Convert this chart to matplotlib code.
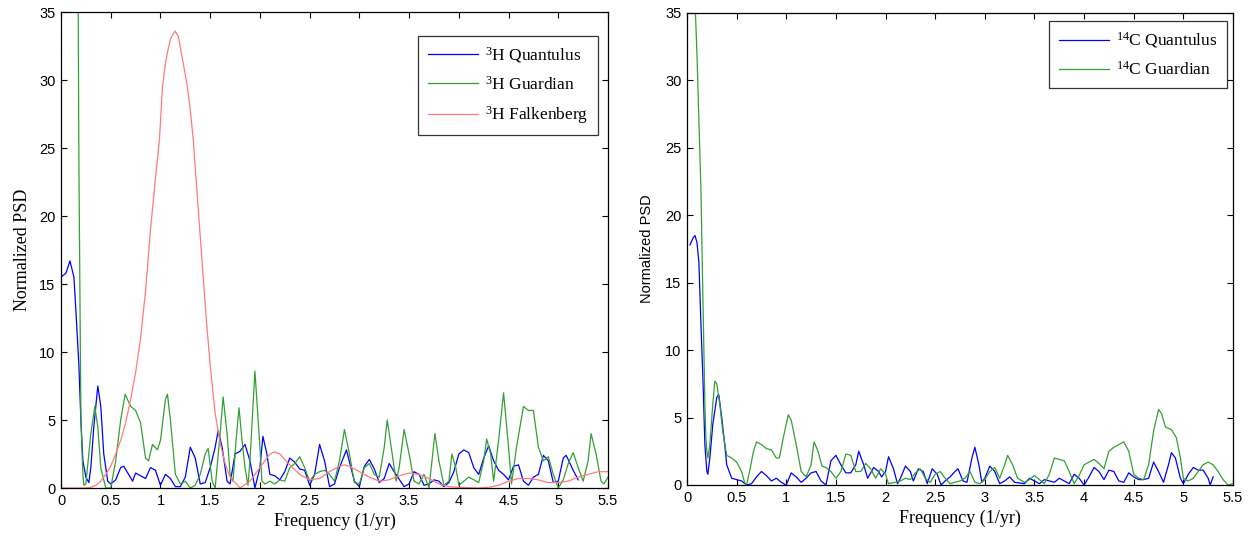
import numpy as np
import matplotlib
matplotlib.use("Agg")
import matplotlib.pyplot as plt

# ============================================================
# DATA
# ============================================================

# --- 3H panel ---
h_quant_f = [0.0, 0.05, 0.09, 0.13, 0.15, 0.18, 0.2, 0.22, 0.25, 0.28, 0.3, 0.33, 0.37, 0.4, 0.43,
             0.47, 0.5, 0.55, 0.6, 0.63, 0.68, 0.72, 0.75, 0.8, 0.85, 0.9, 0.95, 1.0, 1.05, 1.1,
             1.15, 1.2, 1.25, 1.3, 1.35, 1.4, 1.45, 1.5, 1.55, 1.58, 1.62, 1.67, 1.7, 1.75, 1.8,
             1.85, 1.9, 1.95, 2.0, 2.03, 2.07, 2.1, 2.15, 2.2, 2.25, 2.3, 2.35, 2.4, 2.45, 2.5,
             2.55, 2.6, 2.65, 2.7, 2.75, 2.8, 2.87, 2.95, 3.0, 3.05, 3.1, 3.15, 3.2, 3.25, 3.3,
             3.35, 3.45, 3.5, 3.55, 3.6, 3.65, 3.7, 3.75, 3.8, 3.85, 3.9, 3.95, 4.0, 4.05, 4.1,
             4.15, 4.2, 4.25, 4.3, 4.35, 4.4, 4.45, 4.5, 4.55, 4.6, 4.65, 4.7, 4.75, 4.8, 4.85,
             4.9, 4.95, 5.0, 5.05, 5.08, 5.15, 5.2]
h_quant_p = [15.5, 15.8, 16.7, 15.5, 13.0, 9.0, 5.0, 2.0, 0.8, 0.4, 1.5, 4.5, 7.5, 6.0, 2.5,
             0.5, 0.3, 0.6, 1.5, 1.6, 1.0, 0.5, 1.1, 0.9, 0.7, 1.5, 1.3, 0.2, 1.0, 0.7,
             0.1, 0.1, 0.8, 3.0, 2.2, 0.3, 0.4, 1.5, 3.0, 4.2, 3.0, 0.5, 0.3, 2.5, 2.7,
             3.2, 2.0, 0.0, 1.5, 3.8, 2.5, 1.0, 0.9, 0.6, 1.2, 2.2, 1.9, 1.4, 1.3, 0.2,
             1.0, 3.2, 2.0, 0.1, 0.3, 1.5, 2.8, 0.5, 0.1, 1.6, 2.1, 1.4, 0.4, 0.7, 1.8,
             1.2, 0.1, 0.3, 1.2, 1.0, 0.2, 0.3, 0.6, 0.5, 0.1, 0.4, 1.2, 2.5, 2.8, 2.6,
             1.5, 1.0, 2.2, 3.1, 2.0, 1.3, 1.0, 0.6, 1.6, 1.7, 0.5, 0.2, 0.8, 1.0, 2.4,
             2.0, 0.4, 0.5, 2.2, 2.4, 1.3, 0.6]

h_guard_f = [0.16, 0.17, 0.18, 0.19, 0.2, 0.22, 0.23, 0.25, 0.28, 0.3, 0.34, 0.37, 0.4, 0.45, 0.5,
             0.55, 0.6, 0.645, 0.7, 0.75, 0.8, 0.85, 0.88, 0.92, 0.97, 1.0, 1.05, 1.07, 1.1, 1.15,
             1.2, 1.25, 1.3, 1.35, 1.4, 1.45, 1.48, 1.52, 1.55, 1.6, 1.63, 1.67, 1.7, 1.73, 1.76,
             1.79, 1.82, 1.85, 1.88, 1.9, 1.95, 2.0, 2.02, 2.05, 2.1, 2.15, 2.2, 2.25, 2.3, 2.35,
             2.4, 2.45, 2.5, 2.55, 2.6, 2.65, 2.7, 2.75, 2.8, 2.85, 2.9, 2.95, 3.0, 3.05, 3.1,
             3.15, 3.2, 3.25, 3.28, 3.32, 3.37, 3.4, 3.45, 3.5, 3.55, 3.6, 3.65, 3.7, 3.73, 3.76,
             3.8, 3.85, 3.9, 3.93, 3.97, 4.0, 4.05, 4.1, 4.15, 4.2, 4.25, 4.28, 4.32, 4.35, 4.4,
             4.45, 4.5, 4.53, 4.58, 4.65, 4.7, 4.75, 4.8, 4.85, 4.9, 4.95, 5.0, 5.05, 5.1, 5.15,
             5.2, 5.25, 5.3, 5.33, 5.38, 5.43, 5.46, 5.5]
h_guard_p = [60.0, 40.0, 24.0, 14.0, 5.0, 1.0, 0.2, 0.3, 2.5, 4.0, 6.0, 4.5, 1.5, 0.0, 0.0,
             2.0, 5.0, 6.9, 6.0, 5.7, 4.8, 2.2, 2.0, 3.2, 2.8, 3.5, 6.5, 6.9, 5.0, 1.0,
             0.3, 0.5, 0.0, 0.2, 1.0, 2.5, 2.9, 0.5, 0.0, 4.0, 6.7, 4.0, 1.0, 0.5, 3.5,
             5.9, 3.5, 1.5, 0.2, 2.0, 8.6, 3.0, 0.5, 0.3, 0.5, 0.3, 0.6, 0.5, 1.5, 1.8,
             2.3, 1.5, 0.5, 1.0, 1.2, 1.3, 1.0, 0.5, 2.0, 4.3, 2.5, 0.4, 0.3, 1.5, 1.8,
             1.0, 0.8, 3.0, 5.0, 3.0, 0.5, 1.5, 4.3, 2.5, 0.5, 0.3, 1.0, 0.0, 2.0, 4.0,
             2.0, 0.2, 0.5, 2.5, 1.5, 0.2, 0.5, 0.8, 0.6, 0.4, 2.0, 3.6, 2.5, 0.5, 3.5,
             7.0, 3.0, 0.3, 3.0, 6.0, 5.7, 5.7, 3.0, 2.0, 2.3, 1.0, 0.0, 0.6, 1.8, 2.6,
             1.5, 0.5, 2.0, 4.0, 2.5, 0.5, 0.3, 0.8]

h_falk_f = [0.0, 0.25, 0.3, 0.35, 0.4, 0.45, 0.5, 0.55, 0.6, 0.65, 0.7, 0.75, 0.8, 0.85, 0.9,
            0.95, 0.99, 1.02, 1.05, 1.07, 1.1, 1.146, 1.18, 1.21, 1.24, 1.27, 1.3, 1.33, 1.38, 1.42,
            1.46, 1.5, 1.55, 1.6, 1.65, 1.7, 1.8, 1.9, 2.0, 2.1, 2.15, 2.2, 2.3, 2.4, 2.5,
            2.6, 2.7, 2.8, 2.85, 2.9, 3.0, 3.1, 3.2, 3.3, 3.4, 3.5, 3.6, 3.7, 3.8, 3.9,
            4.0, 4.2, 4.3, 4.4, 4.5, 4.6, 4.7, 4.8, 4.9, 5.0, 5.1, 5.2, 5.3, 5.4, 5.5]
h_falk_p = [0.0, 0.0, 0.05, 0.2, 0.5, 1.0, 1.6, 2.5, 3.5, 4.8, 6.5, 8.5, 11.0, 14.5, 19.0,
            22.8, 25.6, 29.5, 31.2, 32.0, 33.0, 33.6, 33.2, 32.0, 30.8, 29.5, 27.8, 25.6, 20.5, 16.5,
            12.5, 9.0, 5.5, 3.3, 1.8, 0.8, 0.0, 0.5, 1.5, 2.5, 2.65, 2.5, 1.7, 1.0, 0.6,
            0.7, 1.2, 1.6, 1.7, 1.6, 1.2, 0.8, 0.5, 0.6, 0.9, 1.1, 1.0, 0.7, 0.3, 0.1,
            0.05, 0.0, 0.05, 0.2, 0.5, 0.7, 0.7, 0.6, 0.4, 0.4, 0.5, 0.8, 1.0, 1.2, 1.2]

# --- 14C panel ---
c_quant_f = [0.03, 0.06, 0.08, 0.1, 0.12, 0.14, 0.16, 0.18, 0.2, 0.21, 0.23, 0.26, 0.3, 0.32, 0.35,
             0.38, 0.4, 0.45, 0.5, 0.55, 0.6, 0.65, 0.7, 0.75, 0.8, 0.85, 0.9, 0.95, 1.0, 1.05,
             1.1, 1.15, 1.2, 1.25, 1.3, 1.35, 1.4, 1.45, 1.5, 1.55, 1.6, 1.65, 1.7, 1.73, 1.78,
             1.82, 1.88, 1.93, 1.96, 2.0, 2.03, 2.08, 2.12, 2.15, 2.2, 2.25, 2.28, 2.33, 2.38, 2.42,
             2.47, 2.52, 2.56, 2.6, 2.65, 2.7, 2.73, 2.78, 2.82, 2.87, 2.9, 2.94, 2.97, 3.0, 3.05,
             3.1, 3.15, 3.2, 3.25, 3.3, 3.4, 3.45, 3.5, 3.55, 3.6, 3.65, 3.7, 3.75, 3.8, 3.85,
             3.9, 3.95, 4.0, 4.05, 4.1, 4.15, 4.2, 4.25, 4.3, 4.35, 4.4, 4.45, 4.5, 4.55, 4.6,
             4.65, 4.7, 4.75, 4.8, 4.85, 4.88, 4.92, 4.97, 5.0, 5.05, 5.1, 5.15, 5.2, 5.25, 5.27,
             5.3]
c_quant_p = [17.8, 18.3, 18.5, 18.0, 16.5, 12.0, 8.0, 3.0, 1.0, 0.8, 2.0, 4.5, 6.5, 6.7, 5.0,
             3.0, 1.5, 0.5, 0.4, 0.3, 0.0, 0.1, 0.6, 1.0, 0.7, 0.3, 0.5, 0.2, 0.0, 0.9,
             0.6, 0.2, 0.5, 0.9, 1.0, 0.3, 0.0, 1.8, 2.2, 1.5, 0.9, 0.9, 1.5, 2.5, 1.5,
             0.5, 1.3, 1.0, 0.6, 1.0, 2.1, 1.2, 0.1, 0.5, 1.4, 1.0, 0.3, 1.2, 1.0, 0.1,
             1.2, 0.8, 0.0, 0.3, 0.6, 1.0, 1.2, 0.3, 0.2, 2.0, 2.8, 1.5, 0.2, 0.5, 1.4,
             1.0, 0.1, 0.3, 0.6, 0.2, 0.1, 0.5, 0.3, 0.1, 0.4, 0.3, 0.2, 0.5, 0.3, 0.1,
             0.8, 0.5, 0.0, 0.6, 1.3, 1.0, 0.4, 1.1, 1.0, 0.3, 0.2, 0.9, 0.6, 0.4, 0.4,
             0.5, 1.7, 1.0, 0.2, 1.5, 2.4, 2.0, 0.5, 0.1, 0.8, 1.3, 1.1, 1.1, 0.5, 0.0,
             0.6]

c_guard_f = [0.07, 0.08, 0.1, 0.12, 0.14, 0.16, 0.18, 0.19, 0.2, 0.21, 0.23, 0.26, 0.28, 0.3, 0.33,
             0.36, 0.4, 0.45, 0.5, 0.55, 0.58, 0.6, 0.63, 0.67, 0.7, 0.75, 0.8, 0.85, 0.9, 0.93,
             0.97, 1.02, 1.05, 1.1, 1.15, 1.2, 1.25, 1.28, 1.32, 1.36, 1.4, 1.45, 1.5, 1.55, 1.6,
             1.65, 1.7, 1.75, 1.8, 1.85, 1.9, 1.95, 2.0, 2.03, 2.1, 2.15, 2.2, 2.25, 2.3, 2.35,
             2.4, 2.45, 2.5, 2.55, 2.6, 2.65, 2.7, 2.75, 2.8, 2.85, 2.9, 2.95, 3.0, 3.05, 3.1,
             3.15, 3.2, 3.23, 3.28, 3.33, 3.4, 3.45, 3.5, 3.55, 3.6, 3.65, 3.7, 3.75, 3.8, 3.85,
             3.9, 3.95, 4.0, 4.05, 4.1, 4.15, 4.2, 4.25, 4.3, 4.35, 4.4, 4.45, 4.5, 4.55, 4.6,
             4.65, 4.7, 4.75, 4.78, 4.82, 4.88, 4.93, 4.97, 5.0, 5.05, 5.1, 5.15, 5.2, 5.25, 5.3,
             5.35, 5.4, 5.45, 5.5]
c_guard_p = [60.0, 36.0, 32.0, 27.0, 22.0, 14.0, 6.0, 3.5, 2.5, 2.0, 3.0, 6.0, 7.7, 7.5, 6.0,
             4.0, 2.2, 2.0, 1.7, 1.0, 0.2, 0.0, 1.0, 2.5, 3.2, 3.0, 2.7, 2.6, 2.0, 2.0,
             3.5, 5.2, 4.8, 3.0, 1.0, 0.6, 1.5, 3.2, 2.5, 1.4, 1.3, 1.0, 0.5, 1.0, 2.3,
             2.2, 1.0, 1.0, 1.6, 1.2, 0.5, 1.2, 0.8, 0.1, 0.2, 0.3, 0.5, 0.4, 0.9, 1.2,
             0.5, 0.2, 0.8, 1.0, 0.5, 0.1, 0.2, 0.3, 0.5, 1.0, 0.2, 0.1, 0.4, 1.0, 1.3,
             0.5, 1.5, 2.2, 1.5, 0.5, 0.2, 0.4, 0.7, 0.4, 0.1, 0.8, 2.0, 1.9, 1.8, 1.0,
             0.1, 0.7, 1.5, 1.7, 1.9, 1.6, 1.2, 2.5, 2.8, 3.0, 3.2, 2.5, 0.8, 0.5, 0.4,
             1.5, 4.0, 5.6, 5.3, 4.3, 4.1, 3.5, 2.0, 0.5, 0.3, 0.5, 1.0, 1.5, 1.7, 1.5,
             1.0, 0.4, 0.0, 0.1]

x_ticks = [0, 0.5, 1, 1.5, 2, 2.5, 3, 3.5, 4, 4.5, 5, 5.5]
x_tick_labels = ["0", "0.5", "1", "1.5", "2", "2.5", "3", "3.5", "4", "4.5", "5", "5.5"]
y_ticks = [0, 5, 10, 15, 20, 25, 30, 35]

# ============================================================
# STYLE
# ============================================================

plt.rcParams["font.family"] = ["Liberation Sans", "DejaVu Sans"]
plt.rcParams["mathtext.fontset"] = "custom"
plt.rcParams["mathtext.rm"] = "Liberation Serif"
plt.rcParams["mathtext.it"] = "Liberation Serif:italic"

BLUE = "#0000ff"
GREEN = "#33a033"
RED = "#ff7a7a"
SERIF = ["Liberation Serif", "DejaVu Serif"]

fig = plt.figure(figsize=(12.52, 5.40), dpi=100)

ax1 = fig.add_axes([61 / 1252, 1 - 488 / 540, 547 / 1252, 476 / 540])
ax2 = fig.add_axes([687 / 1252, 1 - 485 / 540, 546 / 1252, 472 / 540])


def style_axes(ax):

    ax.set_xlim(0, 5.5)
    ax.set_ylim(0, 35)

    ax.set_xticks(x_ticks)
    ax.set_xticklabels(x_tick_labels)
    ax.set_yticks(y_ticks)

    ax.tick_params(
        direction="in",
        top=True,
        right=True,
        length=4,
        width=0.8,
        labelsize=10.5,
        pad=4
    )

    for s in ax.spines.values():
        s.set_linewidth(0.9)

    ax.set_xlabel("Frequency (1/yr)", family=SERIF, fontsize=13, labelpad=4)


# --------------------------------------------------------
# LEFT PANEL
# --------------------------------------------------------

ax1.plot(h_quant_f, h_quant_p, color=BLUE, lw=0.9, label=r"$^{3}$H Quantulus")
ax1.plot(h_guard_f, h_guard_p, color=GREEN, lw=0.9, label=r"$^{3}$H Guardian")
ax1.plot(h_falk_f, h_falk_p, color=RED, lw=0.9, label=r"$^{3}$H Falkenberg")

style_axes(ax1)
ax1.set_ylabel("Normalized PSD", family=SERIF, fontsize=13, labelpad=6)

leg1 = ax1.legend(
    loc="upper right",
    bbox_to_anchor=(0.982, 0.950),
    prop={"family": SERIF, "size": 12.5},
    frameon=True,
    fancybox=False,
    edgecolor="black",
    handlelength=2.9,
    handletextpad=0.4,
    labelspacing=0.6,
    borderpad=0.55,
    borderaxespad=0
)
leg1.get_frame().set_linewidth(0.9)

# --------------------------------------------------------
# RIGHT PANEL
# --------------------------------------------------------

ax2.plot(c_quant_f, c_quant_p, color=BLUE, lw=0.9, label=r"$^{14}$C Quantulus")
ax2.plot(c_guard_f, c_guard_p, color=GREEN, lw=0.9, label=r"$^{14}$C Guardian")

style_axes(ax2)
ax2.set_ylabel("Normalized PSD", fontsize=10.5, labelpad=8)

leg2 = ax2.legend(
    loc="upper right",
    bbox_to_anchor=(0.989, 0.983),
    prop={"family": SERIF, "size": 12.5},
    frameon=True,
    fancybox=False,
    edgecolor="black",
    handlelength=2.9,
    handletextpad=0.4,
    labelspacing=0.6,
    borderpad=0.55,
    borderaxespad=0
)
leg2.get_frame().set_linewidth(0.9)

fig.savefig("out.png", dpi=100)
